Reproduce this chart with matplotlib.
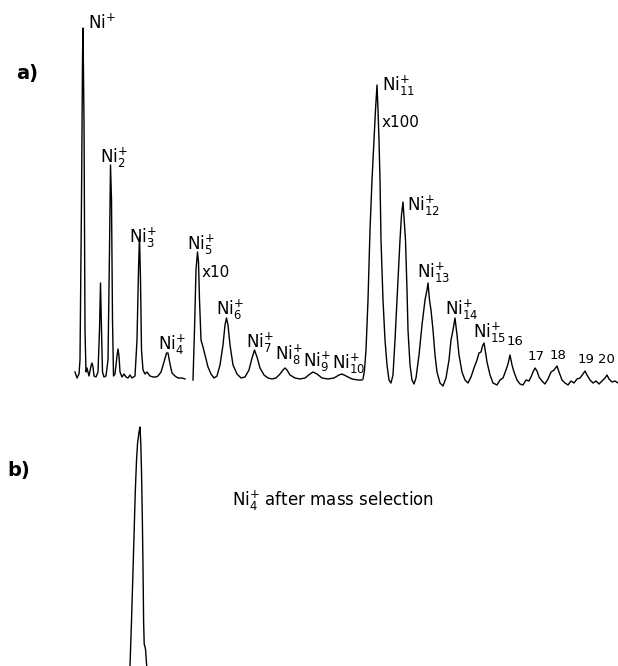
import numpy as np
import matplotlib
matplotlib.use('Agg')
import matplotlib.pyplot as plt

plt.rcParams['font.family'] = ['DejaVu Sans']
plt.rcParams['mathtext.fontset'] = 'dejavusans'

# a) Ni cluster spectrum, three traces (x1, x10, x100 gain), arbitrary units
seg1_x = [75, 77, 79, 80, 81.5, 82.5, 83, 84, 85, 86, 87, 89, 91, 92, 93, 94, 96, 98,
          99.5, 100.5, 101.5, 102.5, 104, 106, 108, 109.5, 110.5, 111.5, 112.5, 113.5,
          115, 117, 118, 119, 120, 122, 124, 126, 128, 130, 132, 135, 137, 138.5, 139.5,
          140.5, 141.5, 143, 145, 147, 150, 153, 156, 158, 161, 164, 166.5, 168, 170,
          172, 175, 178, 182, 185]
seg1_y = [13, 7, 11, 25, 185, 325, 357, 265, 55, 13, 17, 9, 19, 22, 18, 9, 8, 13,
          55, 102, 55, 13, 8, 9, 25, 135, 220, 185, 65, 9,
          11, 29, 36, 29, 13, 8, 11, 8, 7, 10, 7, 9, 45, 115, 148,
          105, 35, 15, 11, 13, 9, 8, 8, 9, 13, 23, 32, 32, 21,
          12, 9, 7, 7, 6]

seg10_x = [193, 194.5, 196, 197.5, 198.5, 199.5, 201, 203, 205, 208, 211, 214, 217, 220,
           223, 225, 226.5, 228, 230, 233, 237, 241, 245, 249, 252, 254.5, 257, 260, 264,
           268, 272, 276, 280, 283, 285, 287, 290, 295, 300, 305, 310, 313, 317, 322, 328,
           334, 339, 342, 346, 352, 358, 362]
seg10_y = [5, 55, 115, 133, 123, 85, 45, 38, 30, 18, 11, 7, 9, 20,
           40, 60, 67, 60, 40, 20, 11, 7, 8, 15, 27, 35, 28, 17, 10,
           7, 6, 7, 11, 15, 17, 15, 10, 7, 6, 7, 11, 13, 11, 7, 6,
           7, 10, 11, 9, 6, 5, 5]

seg100_x = [363, 364.5, 366, 368, 370, 372, 374, 375.5, 377, 378, 379, 380, 381, 382, 383,
            385, 387, 389, 391, 393, 395, 397, 399, 400, 401.5, 403, 404.5, 405.5, 407, 408,
            410, 412, 414, 416, 419, 422, 425, 427, 428, 429.5, 431, 433, 435, 437, 440,
            443, 446, 449, 451, 453, 455, 457, 459, 462, 465, 468, 471, 474, 477, 479, 481,
            482.5, 484, 485.5, 487, 490, 493, 497, 500, 503, 506, 508, 510, 512, 514, 517,
            520, 523, 526, 529, 531, 533, 535, 537, 539, 542, 545, 548, 551, 554, 557, 559,
            562, 565, 568, 571, 574, 577, 580, 583, 585, 587, 590, 593, 596, 599, 602, 605,
            607, 609, 612, 615, 618]
seg100_y = [6, 15, 35, 85, 155, 205, 245, 275, 300, 275, 245, 205, 145, 115, 85,
            45, 20, 5, 2, 10, 45, 85, 125, 145, 170, 183, 160, 145, 95, 55,
            20, 5, 1, 7, 30, 60, 85, 95, 102, 85, 75, 55, 30, 13, 2,
            -1, 7, 25, 45, 55, 67, 50, 30, 13, 5, 2, 8, 17, 25, 32, 33,
            39, 42, 33, 23, 10, 2, 0, 5, 7, 15, 21, 30, 20, 13, 5,
            1, 0, 5, 4, 8, 13, 17, 14, 8, 4, 1, 6, 13, 15, 19, 13,
            5, 2, 0, 4, 2, 6, 7, 11, 14, 10, 5, 2, 4, 1, 4, 7,
            10, 6, 3, 4, 2]

# peak labels in a)
peak_labels = [r'$\mathrm{Ni}^{+}$', r'$\mathrm{Ni}_{2}^{+}$', r'$\mathrm{Ni}_{3}^{+}$',
               r'$\mathrm{Ni}_{4}^{+}$', r'$\mathrm{Ni}_{5}^{+}$', r'$\mathrm{Ni}_{6}^{+}$',
               r'$\mathrm{Ni}_{7}^{+}$', r'$\mathrm{Ni}_{8}^{+}$', r'$\mathrm{Ni}_{9}^{+}$',
               r'$\mathrm{Ni}_{10}^{+}$', r'$\mathrm{Ni}_{11}^{+}$', r'$\mathrm{Ni}_{12}^{+}$',
               r'$\mathrm{Ni}_{13}^{+}$', r'$\mathrm{Ni}_{14}^{+}$', r'$\mathrm{Ni}_{15}^{+}$']
peak_lab_x = [88, 100, 129, 158, 187, 216, 246, 275, 303, 332, 382, 407, 417, 445, 473]
peak_lab_y = [352, 215, 135, 28, 128, 63, 30, 18, 11, 9, 287, 167, 100, 63, 40]

num_labels = ['16', '17', '18', '19', '20']
num_lab_x = [507, 528, 550, 578, 598]
num_lab_y = [37, 22, 23, 19, 19]

gain_labels = ['x10', 'x100']
gain_x = [202, 382]
gain_y = [105, 255]

# b) Ni4+ after mass selection
sel_x = [130, 131.5, 133, 134.3, 135.3, 136.5, 137.5, 139, 140, 140.8, 141.5, 142.3, 143,
         143.6, 144.2, 145.5, 146.7]
sel_y = [0, 45, 95, 140, 175, 205, 222, 234, 239, 222, 195, 150, 100, 45, 22, 17, 0]

W, H = 618, 666
fig = plt.figure(figsize=(W / 100, H / 100), dpi=100)
fig.patch.set_facecolor('white')

split = 392  # pixel row between the panels
ax_a = fig.add_axes([0, (H - split) / H, 1, split / H])
ax_b = fig.add_axes([0, 0, 1, (H - split) / H])
for ax in (ax_a, ax_b):
    ax.set_axis_off()
    ax.set_xlim(0, W)

ax_a.set_ylim(-7, 385)
ax_b.set_ylim(0, H - split)

line_kw = dict(color='black', linewidth=1.0, solid_joinstyle='round')
ax_a.plot(seg1_x, seg1_y, **line_kw)
ax_a.plot(seg10_x, seg10_y, **line_kw)
ax_a.plot(seg100_x, seg100_y, **line_kw)
ax_b.plot(sel_x, sel_y, **line_kw)

for lab, x, y in zip(peak_labels, peak_lab_x, peak_lab_y):
    ax_a.text(x, y, lab, fontsize=12, ha='left', va='bottom')
for lab, x, y in zip(num_labels, num_lab_x, num_lab_y):
    ax_a.text(x, y, lab, fontsize=9.5, ha='left', va='bottom')
for lab, x, y in zip(gain_labels, gain_x, gain_y):
    ax_a.text(x, y, lab, fontsize=11, ha='left', va='bottom')

ax_a.text(16, 302, 'a)', fontsize=14, fontweight='bold', ha='left', va='bottom')
ax_b.text(7, 186, 'b)', fontsize=14, fontweight='bold', ha='left', va='bottom')
ax_b.text(232, 153, r'$\mathrm{Ni}_{4}^{+}$ after mass selection', fontsize=12,
          ha='left', va='bottom')

fig.savefig('out.png', dpi=100, facecolor='white')
